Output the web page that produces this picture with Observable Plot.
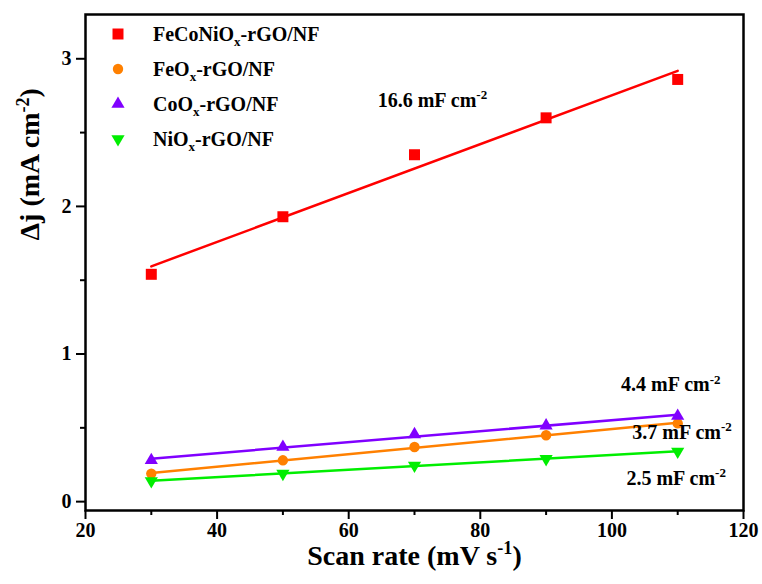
<!DOCTYPE html>
<html><head><meta charset="utf-8">
<script src="https://cdn.jsdelivr.net/npm/d3@7"></script>
<script src="https://cdn.jsdelivr.net/npm/@observablehq/plot@0.6"></script>
<style>
body{margin:0;background:#fff;}
#wrap{position:relative;width:762px;height:584px;}
.lrow{position:absolute;left:106px;height:35px;display:flex;align-items:center;font-family:"Liberation Serif","DejaVu Serif",serif;font-weight:bold;font-size:20px;color:#000;white-space:nowrap;}
.lrow svg{width:24px;height:24px;margin-right:23px;overflow:visible;}
.lrow sub{font-size:65%;vertical-align:-0.35em;line-height:0;}
</style></head><body><div id="wrap"></div>
<script>
// ---- data ----
const scanRates = [30, 50, 70, 90, 110];
const seriesNames = ["FeCoNiO_{x}-rGO/NF", "FeO_{x}-rGO/NF", "CoO_{x}-rGO/NF", "NiO_{x}-rGO/NF"];
const feconiValues = [1.54, 1.93, 2.35, 2.60, 2.86];
const feoValues = [0.19, 0.28, 0.37, 0.45, 0.53];
const cooValues = [0.28, 0.37, 0.455, 0.515, 0.58];
const nioValues = [0.14, 0.19, 0.245, 0.29, 0.34];
const seriesColors = ["#ff0000", "#ff8000", "#8000ff", "#00ee00"];
const seriesSymbols = ["square", "circle", "triangle", "triangle"];
const seriesRotate = [0, 0, 0, 180];
const seriesR = [6.2, 5.2, 4.9, 4.9];
const xTicks = [20, 40, 60, 80, 100, 120];
const xMinorTicks = [30, 50, 70, 90, 110];
const yTicks = [0, 1, 2, 3];
const yMinorTicks = [0.5, 1.5, 2.5];
const annoText = ["16.6 mF cm^{-2}", "4.4 mF cm^{-2}", "3.7 mF cm^{-2}", "2.5 mF cm^{-2}"];
const annoX = [64.4, 101.4, 103.1, 102.2];
const annoY = [2.72, 0.79, 0.468, 0.156];
const xTitle = "Scan rate (mV s^{-1})";
const yTitle = "Δj (mA cm^{-2})";

const FONT = '"Liberation Serif", "DejaVu Serif", serif';
const allValues = [feconiValues, feoValues, cooValues, nioValues];
const rows = [];
seriesNames.forEach((s, k) => scanRates.forEach((x, i) => rows.push({series: s, x, y: allValues[k][i]})));
const annotations = annoText.map((t, i) => ({text: t, x: annoX[i], y: annoY[i]}));

const marks = [
  Plot.linearRegressionY(rows, {x: "x", y: "y", z: "series", stroke: "series", ci: 0, strokeWidth: 2.5})
];
seriesNames.forEach((s, k) => {
  marks.push(Plot.dot(rows.filter(d => d.series === s), {
    x: "x", y: "y", symbol: seriesSymbols[k], fill: seriesColors[k], stroke: "none",
    r: seriesR[k], rotate: seriesRotate[k]
  }));
});
marks.push(
  Plot.text(annotations, {x: "x", y: "y", text: "text", textAnchor: "start", fontSize: 20, fontFamily: FONT, fontWeight: "bold"}),
  Plot.axisX({ticks: xTicks, tickSize: 9, tickPadding: 3, strokeWidth: 2, label: null, fontSize: 20, fontFamily: FONT, fontWeight: "bold", tickFormat: d3.format("d")}),
  Plot.axisX({ticks: xMinorTicks, tickSize: 5, strokeWidth: 2, label: null, tickFormat: () => ""}),
  Plot.axisY({ticks: yTicks, tickSize: 9, tickPadding: 5, strokeWidth: 2, label: null, fontSize: 20, fontFamily: FONT, fontWeight: "bold", tickFormat: d3.format("d")}),
  Plot.axisY({ticks: yMinorTicks, tickSize: 5, strokeWidth: 2, label: null, tickFormat: () => ""}),
  Plot.text([xTitle], {frameAnchor: "bottom", dy: 54, text: d => d, fontSize: 28, fontFamily: FONT, fontWeight: "bold"}),
  Plot.text([yTitle], {frameAnchor: "left", dx: -55, dy: -22, rotate: -90, text: d => d, fontSize: 28, fontFamily: FONT, fontWeight: "bold"}),
  Plot.frame({stroke: "#000", strokeWidth: 2.5})
);

const chart = Plot.plot({
  width: 762, height: 584,
  marginLeft: 85, marginRight: 19, marginTop: 14, marginBottom: 74,
  x: {domain: [20, 120]},
  y: {domain: [-0.06, 3.3]},
  color: {domain: seriesNames, range: seriesColors},
  style: {fontFamily: FONT, fontWeight: "bold", fontSize: "20px", background: "#fff", color: "#000", overflow: "visible"},
  marks
});
const wrap = document.getElementById("wrap");
wrap.appendChild(chart);

// rich text: ^{..} superscript, _{..} subscript
const svgNS = "http://www.w3.org/2000/svg";
function richify(t) {
  const s = t.textContent;
  if (!/[\^_]\{/.test(s)) return;
  const fs = parseFloat(getComputedStyle(t).fontSize);
  t.textContent = "";
  let shift = 0, last = 0, m;
  const re = /([\^_])\{([^}]*)\}/g;
  const add = (txt, sh, small) => {
    const ts = document.createElementNS(svgNS, "tspan");
    ts.textContent = txt;
    if (small) ts.setAttribute("font-size", (fs * 0.65).toFixed(2));
    const dy = sh - shift;
    if (dy) ts.setAttribute("dy", dy.toFixed(2));
    shift = sh;
    t.appendChild(ts);
  };
  while ((m = re.exec(s))) {
    if (m.index > last) add(s.slice(last, m.index), 0, false);
    add(m[2], m[1] === "^" ? -fs * 0.38 : fs * 0.22, true);
    last = re.lastIndex;
  }
  if (last < s.length) add(s.slice(last), 0, false);
}
chart.querySelectorAll("text").forEach(richify);

// legend (HTML overlay inside the frame)
seriesNames.forEach((s, k) => {
  const row = document.createElement("div");
  row.className = "lrow";
  row.style.top = (16.5 + 35 * k) + "px";
  const sym = d3.symbol(k === 0 ? d3.symbolSquare : k === 1 ? d3.symbolCircle : d3.symbolTriangle, seriesR[k] * seriesR[k] * Math.PI)();
  row.innerHTML = `<svg viewBox="-12 -12 24 24"><path d="${sym}" fill="${seriesColors[k]}" transform="rotate(${seriesRotate[k]})"/></svg>` +
    `<span>${s.replace(/_\{([^}]*)\}/g, "<sub>$1</sub>")}</span>`;
  wrap.appendChild(row);
});
</script>
</body></html>
